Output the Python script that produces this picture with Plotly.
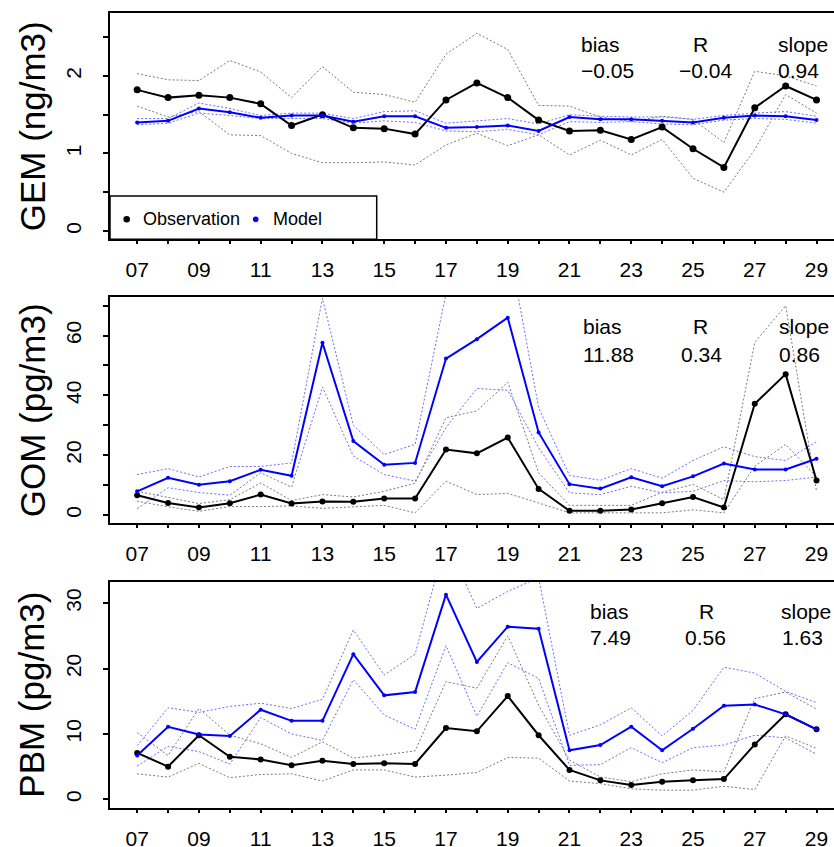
import plotly.graph_objects as go

W, H = 834, 847
ML, MR, MT, MB = 110, 0, 13, 39

days = list(range(7, 30))
day_labels = [f"{d:02d}" if d % 2 == 1 else "" for d in days]

# ---- GEM (ng/m3)
gem_obs = [1.82, 1.72, 1.75, 1.72, 1.64, 1.36, 1.50, 1.33, 1.32, 1.25, 1.69, 1.91,
           1.72, 1.43, 1.29, 1.30, 1.18, 1.34, 1.06, 0.82, 1.59, 1.87, 1.69]
gem_obs_hi = [2.03, 1.95, 1.94, 2.20, 2.05, 1.72, 2.12, 1.79, 1.76, 1.66, 2.28, 2.55,
              2.34, 1.62, 1.61, 1.47, 1.41, 1.48, 1.44, 1.14, 2.06, 2.00, 1.87]
gem_obs_lo = [1.61, 1.47, 1.54, 1.24, 1.23, 1.00, 0.88, 0.88, 0.89, 0.85, 1.11, 1.26,
              1.10, 1.24, 0.98, 1.17, 0.98, 1.18, 0.68, 0.50, 1.05, 1.76, 1.52]
gem_mod = [1.40, 1.42, 1.58, 1.53, 1.46, 1.49, 1.49, 1.41, 1.48, 1.48, 1.33, 1.34,
           1.36, 1.29, 1.47, 1.44, 1.44, 1.42, 1.40, 1.46, 1.49, 1.48, 1.43]
gem_mod_hi = [1.45, 1.45, 1.65, 1.58, 1.49, 1.52, 1.52, 1.45, 1.54, 1.55, 1.39, 1.42,
              1.45, 1.38, 1.50, 1.48, 1.47, 1.47, 1.44, 1.49, 1.52, 1.54, 1.48]
gem_mod_lo = [1.37, 1.39, 1.52, 1.49, 1.45, 1.45, 1.45, 1.39, 1.42, 1.40, 1.29, 1.28,
              1.31, 1.24, 1.41, 1.40, 1.41, 1.38, 1.37, 1.43, 1.45, 1.44, 1.39]

# ---- GOM (pg/m3)
gom_obs = [6.6, 4.0, 2.5, 3.9, 6.8, 3.8, 4.5, 4.4, 5.5, 5.5, 21.9, 20.6,
           25.9, 8.7, 1.4, 1.4, 1.8, 3.9, 6.0, 2.5, 37.2, 47.1, 11.5]
gom_obs_hi = [7.9, 5.9, 3.8, 5.1, 10.7, 4.8, 6.8, 6.0, 7.9, 10.6, 32.5, 34.8,
              44.4, 14.1, 3.2, 3.2, 3.2, 7.6, 10.2, 5.1, 57.7, 70.0, 7.9]
gom_obs_lo = [4.6, 2.7, 1.2, 2.8, 2.8, 3.0, 2.2, 2.7, 3.2, 0.7, 11.3, 6.8,
              7.2, 4.0, 0.7, 0.7, 0.7, 0.7, 1.7, 0.7, 16.3, 23.6, 12.7]
gom_mod = [7.9, 12.4, 10.1, 11.3, 15.1, 13.1, 57.6, 24.7, 16.8, 17.4, 52.3, 58.8,
           66.0, 27.6, 10.3, 8.8, 12.6, 9.6, 12.9, 17.2, 15.2, 15.2, 18.8]
gom_mod_hi = [13.5, 15.5, 12.7, 16.2, 16.2, 17.4, 72.5, 30.0, 20.2, 23.6, 74.0, 85.0,
              92.0, 35.9, 13.2, 11.6, 15.5, 12.3, 18.2, 22.8, 19.5, 18.2, 24.5]
gom_mod_lo = [2.1, 9.1, 7.5, 6.6, 14.1, 9.3, 42.8, 19.7, 13.5, 11.3, 29.2, 42.3,
              41.7, 22.5, 7.4, 6.8, 9.6, 7.4, 7.9, 11.5, 11.1, 11.5, 12.7]

# ---- PBM (pg/m3)
pbm_obs = [7.1, 5.0, 9.8, 6.5, 6.1, 5.2, 5.9, 5.4, 5.5, 5.4, 10.9, 10.4,
           15.8, 9.8, 4.5, 2.9, 2.2, 2.7, 2.9, 3.1, 8.4, 13.0, 10.7]
pbm_obs_hi = [10.2, 6.7, 13.9, 9.8, 8.5, 6.4, 8.8, 6.3, 6.8, 7.4, 18.0, 17.0,
              25.0, 14.4, 6.0, 3.4, 2.7, 3.9, 4.5, 4.2, 15.4, 16.4, 13.8]
pbm_obs_lo = [3.9, 3.4, 5.5, 3.3, 3.8, 3.9, 2.8, 4.5, 4.5, 3.4, 3.7, 4.1,
              6.4, 6.3, 2.8, 2.4, 1.6, 1.4, 1.4, 2.0, 1.5, 9.7, 7.8]
pbm_mod = [6.7, 11.1, 9.9, 9.7, 13.7, 12.0, 12.0, 22.2, 15.9, 16.4, 31.3, 21.0,
           26.4, 26.1, 7.5, 8.3, 11.1, 7.5, 10.8, 14.3, 14.5, 13.0, 10.7]
pbm_mod_hi = [8.2, 14.0, 13.3, 14.2, 14.7, 13.9, 15.3, 25.9, 19.0, 22.2, 39.6, 29.2,
              31.8, 33.9, 9.8, 11.4, 14.0, 9.7, 13.6, 20.2, 19.3, 16.5, 14.8]
pbm_mod_lo = [5.1, 8.1, 7.3, 5.4, 12.5, 10.0, 9.0, 18.3, 12.9, 10.7, 23.5, 12.7,
              20.9, 18.5, 5.2, 5.3, 7.9, 5.6, 7.9, 8.3, 9.8, 9.4, 6.9]

titles = ["GEM (ng/m3)", "GOM (pg/m3)", "PBM (pg/m3)"]
stat_names = ["bias", "R", "slope"]
stat_vals = [["\u22120.05", "\u22120.04", "0.94"],
             ["11.88", "0.34", "0.86"],
             ["7.49", "0.56", "1.63"]]
ylims = [(0, 2.7), (0, 70), (0, 32)]
ytickvals = [[0, 0.5, 1, 1.5, 2, 2.5], [0, 10, 20, 30, 40, 50, 60, 70], [0, 10, 20, 30]]
yticktext = [["0", "", "1", "", "2", ""], ["0", "", "20", "", "40", "", "60", ""],
             ["0", "10", "20", "30"]]

series = [
    (gem_obs, gem_obs_hi, gem_obs_lo, gem_mod, gem_mod_hi, gem_mod_lo),
    (gom_obs, gom_obs_hi, gom_obs_lo, gom_mod, gom_mod_hi, gom_mod_lo),
    (pbm_obs, pbm_obs_hi, pbm_obs_lo, pbm_mod, pbm_mod_hi, pbm_mod_lo),
]

# layout geometry (pixels)
box_tb = [(13.3, 239.3), (297.3, 523.3), (581.7, 807.7)]
px_per_day = 30.88
x0 = 6.12
x1 = x0 + (W - ML - MR) / px_per_day

stat_pos = [
    ([580, 691.7, 776.7], 45, [580, 678.3, 777], 70.7),
    ([581.7, 692.3, 777.7], 326.7, [581.7, 680, 777.7], 354.3),
    ([589, 698.3, 780], 611, [589, 684.3, 780.7], 637.7),
]


def fx(px):
    return (px - ML) / (W - ML - MR)


def fy(py):
    return (H - MB - py) / (H - MT - MB)


FONT = "Liberation Sans, Arial, Helvetica, sans-serif"
OBS_BAND = "#7a7a7a"
MOD_BAND = "#6b6bff"

fig = go.Figure()
annotations = []
shapes = []

for i, (obs, ohi, olo, mod, mhi, mlo) in enumerate(series):
    n = "" if i == 0 else str(i + 1)
    xa, ya = "x" + n, "y" + n
    band = dict(width=1, dash="2px,2px")
    for vals, col in [(ohi, OBS_BAND), (olo, OBS_BAND), (mhi, MOD_BAND), (mlo, MOD_BAND)]:
        fig.add_trace(go.Scatter(x=days, y=vals, mode="lines", xaxis=xa, yaxis=ya,
                                 line=dict(color=col, **band), showlegend=False,
                                 hoverinfo="skip"))
    osize = 7 if i == 0 else 6
    fig.add_trace(go.Scatter(x=days, y=obs, mode="lines+markers", xaxis=xa, yaxis=ya,
                             name="Observation", line=dict(color="black", width=2),
                             marker=dict(color="black", size=osize), showlegend=False))
    fig.add_trace(go.Scatter(x=days, y=mod, mode="lines+markers", xaxis=xa, yaxis=ya,
                             name="Model", line=dict(color="#0000ff", width=2),
                             marker=dict(color="#0000ff", size=4), showlegend=False))

    top, bot = box_tb[i]
    lo, hi = ylims[i]
    ext = 0.04 * (hi - lo)
    axis_common = dict(showline=True, linecolor="black", linewidth=1.8, showgrid=False,
                       zeroline=False, ticks="outside", tickcolor="black", automargin=False,
                       tickwidth=1.5, tickfont=dict(family=FONT, size=21, color="black"))
    fig.update_layout(**{
        "xaxis" + n: dict(domain=[0, 1], anchor=ya, range=[x0, x1], mirror=True,
                          tickvals=days, ticktext=day_labels, ticklen=3,
                          ticklabelstandoff=8, **axis_common),
        "yaxis" + n: dict(domain=[fy(bot), fy(top)], anchor=xa, range=[lo - ext, hi + ext],
                          tickvals=ytickvals[i], ticktext=yticktext[i], ticklen=5,
                          tickangle=-90, ticklabelstandoff=14, **axis_common),
    })

    # y-axis title
    annotations.append(dict(xref="paper", yref="paper", x=fx(32), y=fy((top + bot) / 2),
                            text=titles[i], textangle=-90, showarrow=False,
                            xanchor="center", yanchor="middle",
                            font=dict(family=FONT, size=35, color="black")))
    # statistics text
    nx, ny, vx, vy = stat_pos[i]
    for k in range(3):
        annotations.append(dict(xref="paper", yref="paper", x=fx(nx[k] - 1), y=fy(ny),
                                text=stat_names[k], showarrow=False, xanchor="left",
                                yanchor="middle", font=dict(family=FONT, size=21, color="black")))
        annotations.append(dict(xref="paper", yref="paper", x=fx(vx[k] - 1), y=fy(vy),
                                text=stat_vals[i][k], showarrow=False, xanchor="left",
                                yanchor="middle", font=dict(family=FONT, size=21, color="black")))

# legend box in the first panel
shapes.append(dict(type="rect", xref="paper", yref="paper", x0=fx(110), x1=fx(376.7),
                   y0=fy(239.3), y1=fy(196), line=dict(color="black", width=1.5),
                   fillcolor="white", layer="above"))
for cx, r, col in [(126.7, 3.3, "black"), (255.7, 2.8, "#0000ff")]:
    shapes.append(dict(type="circle", xref="paper", yref="paper",
                       x0=fx(cx - r), x1=fx(cx + r), y0=fy(219.3 + r), y1=fy(219.3 - r),
                       fillcolor=col, line=dict(color=col, width=0), layer="above"))
for tx, txt in [(142.3, "Observation"), (271.7, "Model")]:
    annotations.append(dict(xref="paper", yref="paper", x=fx(tx - 1), y=fy(219.3),
                            text=txt, showarrow=False, xanchor="left", yanchor="middle",
                            font=dict(family=FONT, size=18, color="black")))

fig.update_layout(width=W, height=H, margin=dict(l=ML, r=MR, t=MT, b=MB, autoexpand=False),
                  paper_bgcolor="white", plot_bgcolor="white", showlegend=False,
                  annotations=annotations, shapes=shapes,
                  font=dict(family=FONT, color="black"))

fig.write_html("out.html")
